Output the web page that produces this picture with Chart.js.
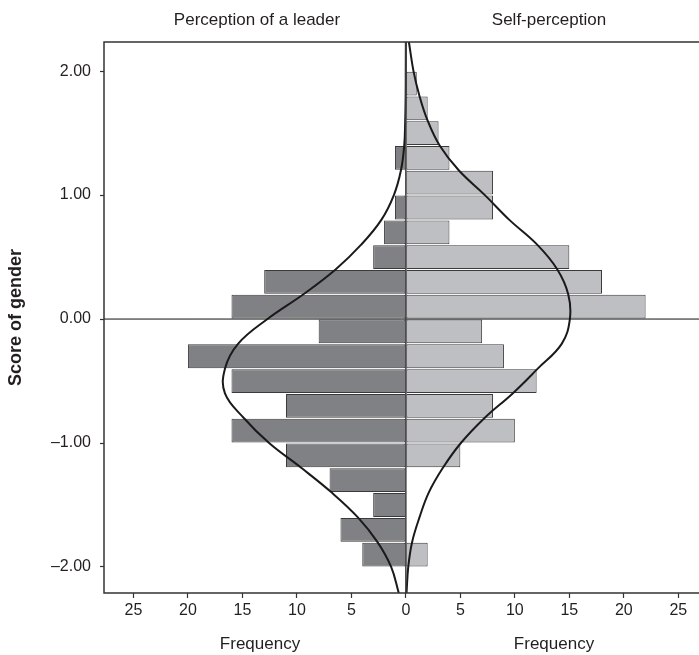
<!DOCTYPE html>
<html><head><meta charset="utf-8">
<script src="https://cdn.jsdelivr.net/npm/chart.js@4/dist/chart.umd.min.js"></script>
<style>html,body{margin:0;padding:0;background:#fff;}</style>
</head><body>
<canvas id="c" width="699" height="655"></canvas>
<script>
// ---- data ----
const binCenters = [1.9, 1.7, 1.5, 1.3, 1.1, 0.9, 0.7, 0.5, 0.3, 0.1, -0.1, -0.3, -0.5, -0.7, -0.9, -1.1, -1.3, -1.5, -1.7, -1.9];
const leaderCounts = [0, 0, 0, 1, 0, 1, 2, 3, 13, 16, 8, 20, 16, 11, 16, 11, 7, 3, 6, 4];
const selfCounts = [1, 2, 3, 4, 8, 8, 4, 15, 18, 22, 7, 9, 12, 8, 10, 5, 0, 0, 0, 2];
const curveScores = [2.235, 2.0, 1.8, 1.6, 1.4, 1.2, 1.0, 0.8, 0.6, 0.4, 0.2, 0.0, -0.2, -0.4, -0.6, -0.8, -1.0, -1.2, -1.4, -1.6, -1.8, -2.0, -2.21];
const leaderCurve = [0.0, 0.01, 0.02, 0.06, 0.15, 0.45, 1.1, 2.25, 4.1, 6.45, 9.4, 12.7, 15.4, 16.6, 16.6, 14.85, 12.55, 9.6, 6.8, 4.4, 2.6, 1.35, 0.65];
const selfCurve = [0.28, 0.7, 1.25, 2.0, 3.1, 4.85, 7.25, 9.5, 12.05, 13.9, 14.9, 15.05, 14.3, 12.1, 9.8, 7.2, 5.05, 3.4, 2.1, 1.25, 0.57, 0.22, 0.06];
const xTickValues = [-25, -20, -15, -10, -5, 0, 5, 10, 15, 20, 25];
const yTickValues = [-2, -1, 0, 1, 2];
const yTickLabels = ['\u20132.00', '\u20131.00', '0.00', '1.00', '2.00'];
const leftTitle = 'Perception of a leader';
const rightTitle = 'Self-perception';
const xTitle = 'Frequency';
const yTitle = 'Score of gender';

const FONT = '"Liberation Sans", Arial, Helvetica, sans-serif';
const TEXT = '#231f20';

const leaderBars = binCenters.map((c, i) => ({ y: c, x: -leaderCounts[i] })).filter(p => p.x !== 0);
const selfBars = binCenters.map((c, i) => ({ y: c, x: selfCounts[i] })).filter(p => p.x !== 0);
const leaderLine = curveScores.map((s, i) => ({ y: s, x: -leaderCurve[i] }));
const selfLine = curveScores.map((s, i) => ({ y: s, x: selfCurve[i] }));

const decor = {
  id: 'decor',
  afterDatasetsDraw(chart) {
    const { ctx, chartArea: a, scales: { x, y } } = chart;
    const x0 = x.getPixelForValue(0), y0 = y.getPixelForValue(0);
    ctx.save();
    ctx.strokeStyle = '#111'; ctx.lineWidth = 1;
    ctx.beginPath(); ctx.moveTo(a.left, y0); ctx.lineTo(a.right, y0); ctx.stroke();
    ctx.strokeStyle = '#3c3c3c'; ctx.lineWidth = 1.5;
    ctx.beginPath(); ctx.moveTo(x0, a.top); ctx.lineTo(x0, a.bottom); ctx.stroke();
    ctx.strokeStyle = '#333'; ctx.lineWidth = 1.5;
    ctx.beginPath();
    ctx.moveTo(a.right + 5, a.top); ctx.lineTo(a.left, a.top);
    ctx.lineTo(a.left, a.bottom); ctx.lineTo(a.right + 5, a.bottom);
    ctx.stroke();
    ctx.restore();
  },
  afterDraw(chart) {
    const { ctx, chartArea: a } = chart;
    ctx.save();
    ctx.fillStyle = TEXT;
    ctx.textAlign = 'center';
    ctx.textBaseline = 'alphabetic';
    ctx.font = '17px ' + FONT;
    ctx.fillText(leftTitle, 257, 25);
    ctx.fillText(rightTitle, 549, 25);
    ctx.fillText(xTitle, 260, 649);
    ctx.fillText(xTitle, 554, 649);
    ctx.translate(16, (a.top + a.bottom) / 2);
    ctx.rotate(-Math.PI / 2);
    ctx.font = 'bold 18px ' + FONT;
    ctx.textBaseline = 'middle';
    ctx.fillText(yTitle, 0, 0);
    ctx.restore();
  }
};

new Chart(document.getElementById('c'), {
  type: 'bar',
  data: {
    datasets: [
      { type: 'bar', data: leaderBars, backgroundColor: '#808185', borderColor: '#3a3a3a', borderWidth: 1, borderSkipped: false, order: 2 },
      { type: 'bar', data: selfBars, backgroundColor: '#bebfc3', borderColor: '#3a3a3a', borderWidth: 1, borderSkipped: false, order: 2 },
      { type: 'line', indexAxis: 'y', data: leaderLine, borderColor: '#1a1a1a', borderWidth: 2, pointRadius: 0, tension: 0.4, fill: false, order: 0 },
      { type: 'line', indexAxis: 'y', data: selfLine, borderColor: '#1a1a1a', borderWidth: 2, pointRadius: 0, tension: 0.4, fill: false, order: 0 }
    ]
  },
  options: {
    indexAxis: 'y',
    responsive: false,
    animation: false,
    grouped: false,
    barPercentage: 0.96,
    categoryPercentage: 1,
    layout: { padding: { top: 42, left: 0, right: 0, bottom: 0 } },
    plugins: { legend: { display: false }, tooltip: { enabled: false } },
    scales: {
      x: {
        type: 'linear', min: -27.7, max: 26.9, offset: false,
        afterBuildTicks: s => { s.ticks = xTickValues.map(v => ({ value: v })); },
        afterFit: s => { s.height = 62; },
        ticks: { autoSkip: false, maxRotation: 0, padding: 3, color: TEXT, font: { family: FONT, size: 16 },
                 callback: v => String(Math.abs(v)) },
        grid: { display: true, drawOnChartArea: false, drawTicks: true, tickLength: 5, tickColor: '#333', tickWidth: 1.2, offset: false },
        border: { display: false }
      },
      y: {
        type: 'linear', min: -2.21, max: 2.235, offset: false,
        afterBuildTicks: s => { s.ticks = yTickValues.map(v => ({ value: v })); },
        afterFit: s => { s.width = 104; },
        ticks: { autoSkip: false, padding: 9, color: TEXT, font: { family: FONT, size: 16 },
                 callback: v => yTickLabels[yTickValues.indexOf(v)] },
        grid: { display: true, drawOnChartArea: false, drawTicks: true, tickLength: 4, tickColor: '#333', tickWidth: 1.2, offset: false },
        border: { display: false }
      }
    }
  },
  plugins: [decor]
});
</script>
</body></html>
